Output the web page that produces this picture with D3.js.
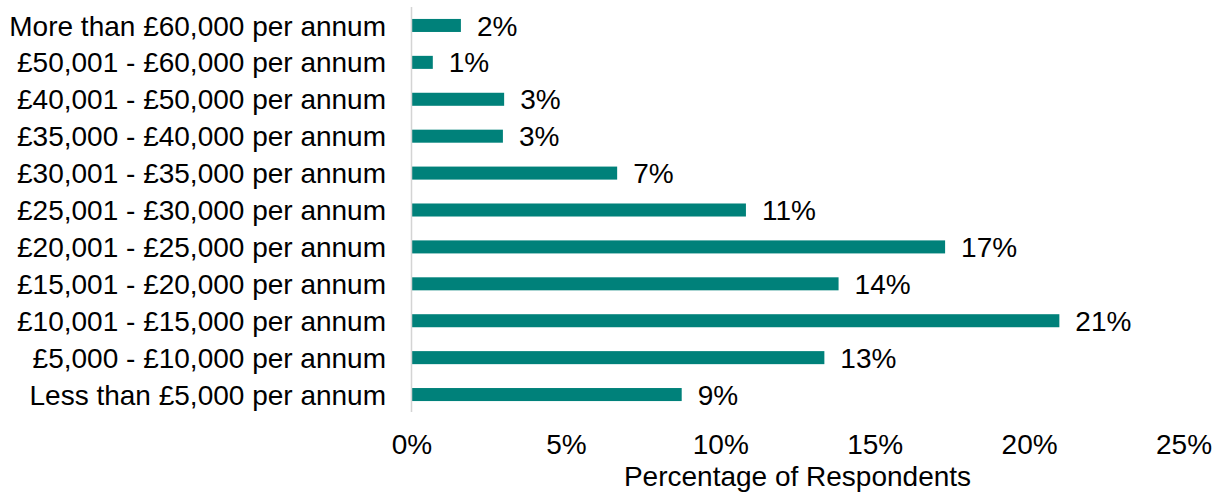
<!DOCTYPE html>
<html>
<head>
<meta charset="utf-8">
<script src="https://cdn.jsdelivr.net/npm/d3@7"></script>
<style>
  html, body { margin: 0; padding: 0; background: #fff; }
  text { font-family: "Liberation Sans", Arial, sans-serif; fill: #000; }
</style>
</head>
<body>
<svg id="chart" width="1220" height="503"></svg>
<script>
const categories = [
  "More than £60,000 per annum",
  "£50,001 - £60,000 per annum",
  "£40,001 - £50,000 per annum",
  "£35,000 - £40,000 per annum",
  "£30,001 - £35,000 per annum",
  "£25,001 - £30,000 per annum",
  "£20,001 - £25,000 per annum",
  "£15,001 - £20,000 per annum",
  "£10,001 - £15,000 per annum",
  "£5,000 - £10,000 per annum",
  "Less than £5,000 per annum"
];
const values = [0.016, 0.0069, 0.030, 0.0296, 0.0666, 0.1083, 0.1728, 0.1383, 0.2098, 0.1337, 0.0875];
const tickValues = [0, 0.05, 0.10, 0.15, 0.20, 0.25];
const axisTitle = "Percentage of Respondents";

const svg = d3.select("#chart");
const fs = 28;
const x = d3.scaleLinear().domain([0, 0.25]).range([411.5, 1183.5]);
const y = d3.scaleBand().domain(categories).range([7, 413]).paddingInner(0.647).paddingOuter(0.3235);
const pct = d3.format(".0%");

// bars
svg.append("g").selectAll("rect").data(values).join("rect")
  .attr("x", x(0) + 0.5)
  .attr("y", (d, i) => y(categories[i]))
  .attr("width", d => x(d) - x(0) - 0.5)
  .attr("height", y.bandwidth())
  .attr("fill", "#00817a");

// vertical axis line
svg.append("line")
  .attr("x1", x(0)).attr("x2", x(0))
  .attr("y1", 7).attr("y2", 412)
  .attr("stroke", "#d4d4d4").attr("stroke-width", 1.5);

// category labels
svg.append("g").selectAll("text").data(categories).join("text")
  .attr("x", 386)
  .attr("y", d => y(d) + y.bandwidth() / 2 + fs * 0.36)
  .attr("text-anchor", "end")
  .attr("font-size", fs)
  .text(d => d);

// data labels
svg.append("g").selectAll("text").data(values).join("text")
  .attr("x", d => x(d) + 16)
  .attr("y", (d, i) => y(categories[i]) + y.bandwidth() / 2 + fs * 0.36)
  .attr("font-size", fs)
  .text(d => pct(d));

// x axis tick labels
const xAxis = d3.axisBottom(x).tickValues(tickValues).tickFormat(pct).tickSize(0).tickPadding(0);
const gx = svg.append("g").attr("transform", "translate(0,434)").call(xAxis);
gx.select(".domain").remove();
gx.selectAll("text")
  .attr("font-size", fs)
  .attr("font-family", "Liberation Sans, Arial, sans-serif")
  .attr("fill", "#000")
  .attr("dy", "0.71em");

// axis title
svg.append("text")
  .attr("x", (x(0) + x(0.25)) / 2)
  .attr("y", 486)
  .attr("text-anchor", "middle")
  .attr("font-size", fs)
  .text(axisTitle);
</script>
</body>
</html>
